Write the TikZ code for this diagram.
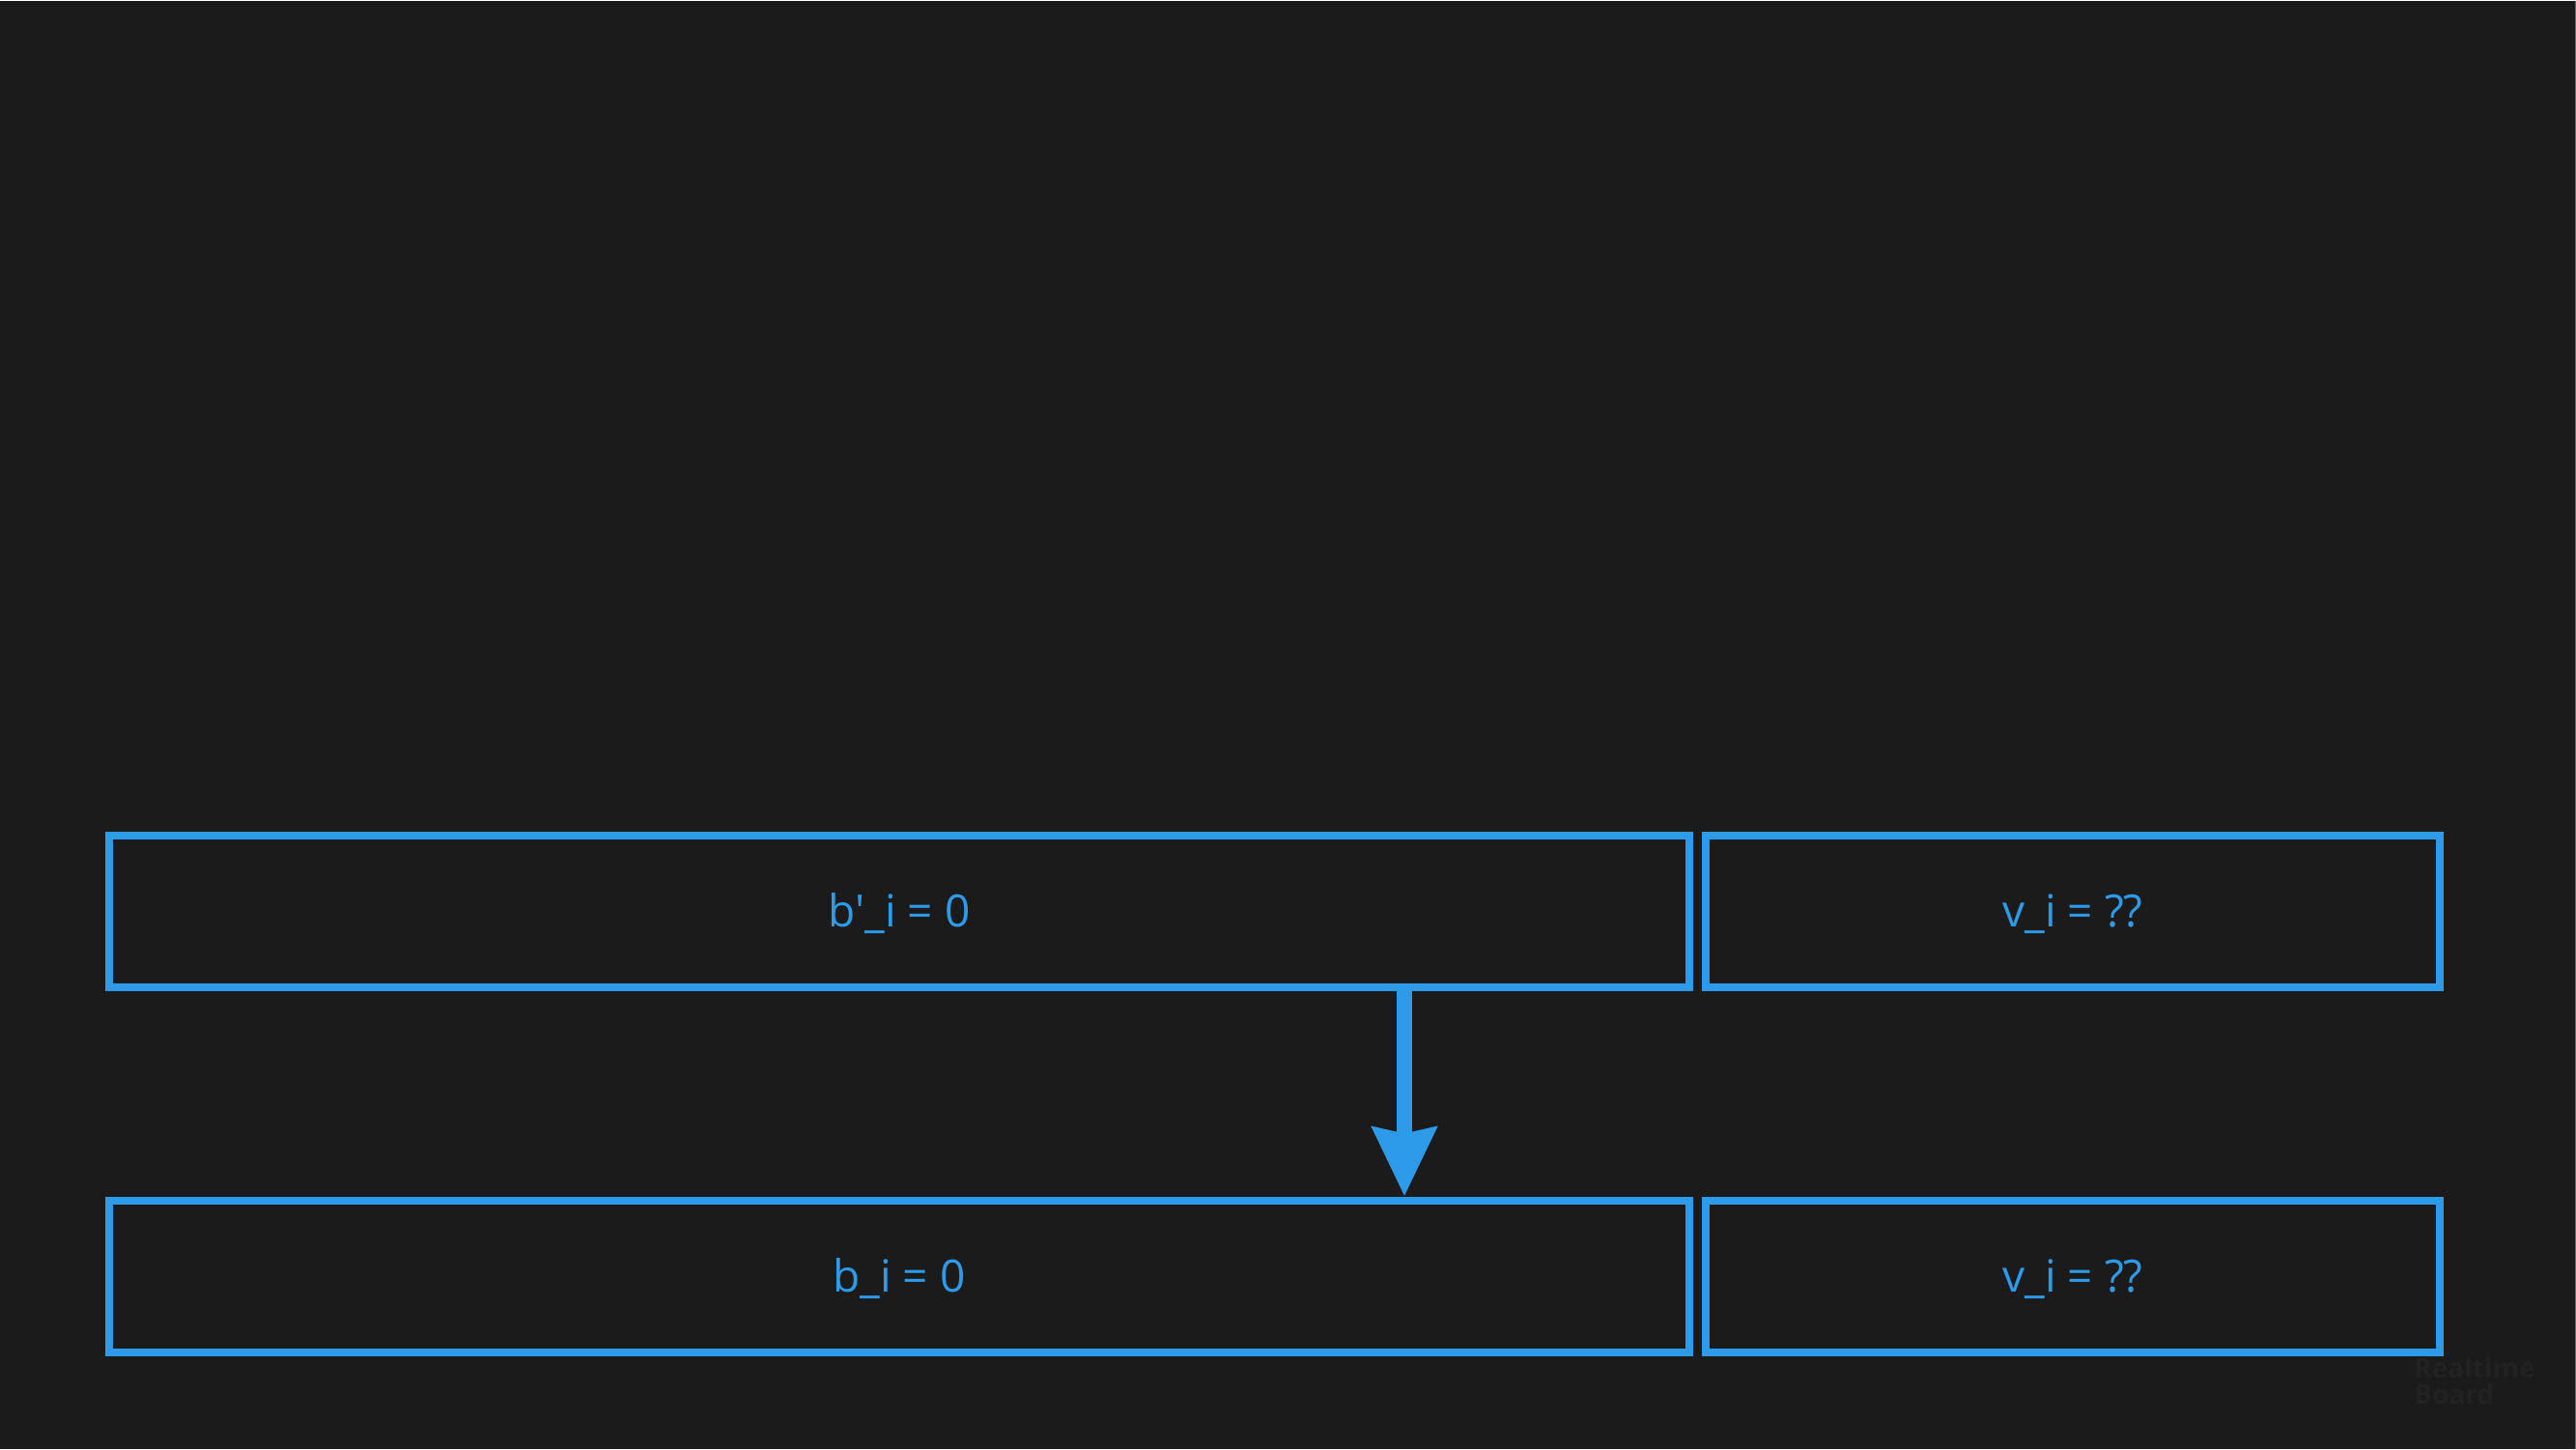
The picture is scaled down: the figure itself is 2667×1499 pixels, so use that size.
\documentclass[tikz,border=0pt]{standalone}
\usepackage{xcolor}
\usepackage{fontspec}
\setmainfont{Open Sans}
\usepackage{tikz}
\usetikzlibrary{arrows.meta}
\definecolor{boardbg}{HTML}{1B1B1B}
\definecolor{cellblue}{HTML}{2E9BEA}
\definecolor{markgray}{HTML}{222222}
\definecolor{edgegray}{HTML}{6A6A6A}

\begin{document}
\begin{tikzpicture}[x=0.5pt, y=-0.5pt]
\tikzstyle{cell}=[draw=cellblue, line width=4pt, text=cellblue, font=\fontsize{23}{28}\selectfont, minimum height=78.5pt, text height=17.5pt, text depth=1pt, inner sep=0pt, outer sep=0pt]
\tikzstyle{flow}=[draw=cellblue, line width=8pt, -{Stealth[length=35.5pt, width=32.5pt, inset=3pt]}, shorten >=2pt]
\fill[boardbg] (0,0) rectangle (2667,1499);
\draw[edgegray, line width=0.5pt] (2666.5,0) -- (2666.5,1499);
\node[cell, minimum width=818pt] (bp) at (931,942.5) {b\textquotesingle\_i = 0};
\node[cell, minimum width=380pt] (vp) at (2146,942.5) {v\_i = ??};
\node[cell, minimum width=818pt] (b) at (931,1320.5) {b\_i = 0};
\node[cell, minimum width=380pt] (v) at (2146,1320.5) {v\_i = ??};
\draw[flow] ([xshift=261.5pt]bp.south) -- ([xshift=261.5pt]b.north);
\node[anchor=north west, align=left, inner sep=0pt, text=markgray, font=\bfseries\fontsize{14}{13.5}\selectfont] (mark) at (2499,1404) {Realtime\\Board};
\end{tikzpicture}
\end{document}
